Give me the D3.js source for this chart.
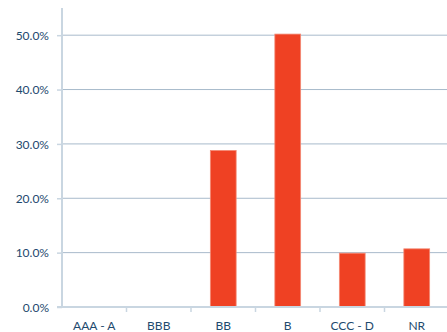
<!DOCTYPE html>
<html>
<head>
<meta charset="utf-8">
<script src="https://cdn.jsdelivr.net/npm/d3@7"></script>
<style>
  html, body { margin: 0; padding: 0; background: #fff; }
  svg { display: block; font-family: Lato, "Open Sans", sans-serif; }
</style>
</head>
<body>
<svg id="chart" width="447" height="332"></svg>
<script>
// Rating buckets and share of portfolio (%)
const categories = ["AAA - A", "BBB", "BB", "B", "CCC - D", "NR"];
const shares = [0, 0, 28.8, 50.2, 9.9, 10.7];
const yTicks = [0, 10, 20, 30, 40, 50];

const svg = d3.select("#chart");
const margin = { left: 62, right: -2, top: 8, bottom: 25 };
const W = 447, H = 332;

const x = d3.scaleBand()
  .domain(categories)
  .range([margin.left, W - margin.right])
  .paddingInner(0.6)
  .paddingOuter(0.3);

const y = d3.scaleLinear()
  .domain([0, 55])
  .range([H - margin.bottom, margin.top]);

// horizontal gridlines
svg.append("g")
  .selectAll("line")
  .data(yTicks.filter(d => d > 0))
  .join("line")
  .attr("x1", margin.left)
  .attr("x2", W)
  .attr("y1", d => y(d))
  .attr("y2", d => y(d))
  .attr("stroke", "#A8BACB")
  .attr("stroke-width", 1);

// bars
svg.append("g")
  .selectAll("rect")
  .data(categories.map((c, i) => ({ c, v: shares[i] })).filter(d => d.v > 0))
  .join("rect")
  .attr("x", d => x(d.c))
  .attr("y", d => y(d.v))
  .attr("width", x.bandwidth())
  .attr("height", d => y(0) - y(d.v))
  .attr("fill", "#EF4123")
  .attr("stroke", "#F38A76")
  .attr("stroke-width", 0.8);

// y axis
const yAxis = d3.axisLeft(y)
  .tickValues(yTicks)
  .tickSize(5)
  .tickFormat(d => d.toFixed(1) + "%");
const gy = svg.append("g")
  .attr("transform", `translate(${margin.left},0)`)
  .call(yAxis);
gy.select(".domain").attr("stroke", "#C9D6E1").attr("stroke-width", 2)
  .attr("d", `M0,${y(0)}V${margin.top}`);
gy.selectAll(".tick line").attr("stroke", "#C9D6E1").attr("stroke-width", 1.5);
gy.selectAll(".tick text")
  .attr("x", -13)
  .attr("dy", "0.35em")
  .attr("fill", "#1E4A6E")
  .style("font-size", "12px")
  .style("font-family", "Lato, 'Open Sans', sans-serif");

// x axis
const step = x.step();
const boundaries = d3.range(categories.length + 1).map(i => margin.left + i * (W - margin.left + 2) / categories.length);
const gx = svg.append("g");
gx.append("line")
  .attr("x1", margin.left - 5)
  .attr("x2", W)
  .attr("y1", y(0))
  .attr("y2", y(0))
  .attr("stroke", "#C9D6E1")
  .attr("stroke-width", 2);
gx.selectAll("line.tk")
  .data(boundaries.slice(1, -1))
  .join("line")
  .attr("class", "tk")
  .attr("x1", d => d)
  .attr("x2", d => d)
  .attr("y1", y(0))
  .attr("y2", y(0) + 5)
  .attr("stroke", "#C9D6E1")
  .attr("stroke-width", 1.5);
gx.selectAll("text")
  .data(categories)
  .join("text")
  .attr("x", d => x(d) + x.bandwidth() / 2)
  .attr("y", 330)
  .attr("text-anchor", "middle")
  .attr("fill", "#1E4A6E")
  .style("font-size", "12px")
  .text(d => d);
</script>
</body>
</html>
